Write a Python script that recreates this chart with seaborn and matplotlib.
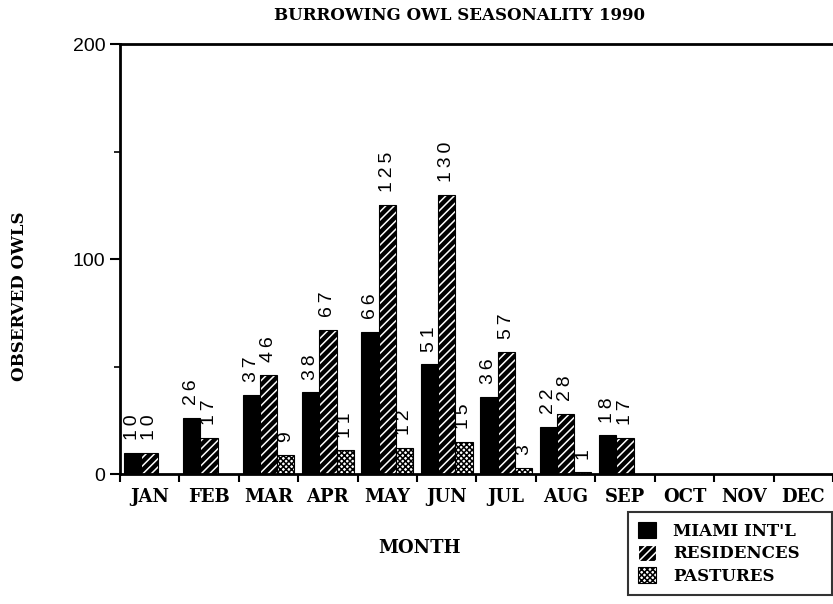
import pandas as pd
import seaborn as sns
import matplotlib.pyplot as plt
from matplotlib.patches import Patch
from matplotlib.ticker import MultipleLocator, FixedLocator

# data
months = ["JAN", "FEB", "MAR", "APR", "MAY", "JUN",
          "JUL", "AUG", "SEP", "OCT", "NOV", "DEC"]
miami = [10, 26, 37, 38, 66, 51, 36, 22, 18, 0, 0, 0]
residences = [10, 17, 46, 67, 125, 130, 57, 28, 17, 0, 0, 0]
pastures = [0, 0, 9, 11, 12, 15, 3, 1, 0, 0, 0, 0]
sites = ["MIAMI INT'L", "RESIDENCES", "PASTURES"]

df = pd.DataFrame({
    "Month": months * 3,
    "Owls": miami + residences + pastures,
    "Site": [sites[0]] * 12 + [sites[1]] * 12 + [sites[2]] * 12,
})

sns.set_theme(style="ticks")
plt.rcParams['font.family'] = ['DejaVu Sans']
plt.rcParams['hatch.linewidth'] = 1.1
for key in ["text.color", "axes.labelcolor", "xtick.color", "ytick.color"]:
    plt.rcParams[key] = "black"

serif = "DejaVu Serif"
sans = ["Liberation Sans", "DejaVu Sans"]

fig = plt.figure(figsize=(8.33, 6.04), dpi=100)
ax = fig.add_axes([0.144, 0.215, 0.856, 0.712])

sns.barplot(data=df, x="Month", y="Owls", hue="Site", order=months,
            hue_order=sites, width=0.87, dodge=True, legend=False, ax=ax,
            saturation=1, palette=["black", "black", "#8a8a8a"])

# black solid / black with white stripes / stippled grey
styles = [dict(fc="black", ec="black", hatch=None, lw=0.8),
          dict(fc="black", ec="white", hatch="////", lw=0),
          dict(fc="white", ec="black", hatch="xxxxxx", lw=0.8)]
for cont, st in zip(ax.containers, styles):
    for bar in cont:
        bar.set_facecolor(st["fc"])
        bar.set_edgecolor(st["ec"])
        bar.set_linewidth(st["lw"])
        if st["hatch"]:
            bar.set_hatch(st["hatch"])
        h = bar.get_height()
        if h > 0:
            # letter-spaced digits like the original typewriter-ish labels
            txt = "\u2009".join(str(int(h)))
            ax.text(bar.get_x() + bar.get_width() / 2, h + 6, txt,
                    rotation=90, ha="center", va="bottom", fontsize=14,
                    fontfamily=sans)
        if st["lw"] == 0 and h > 0:
            # keep a black outline round the striped bars
            ax.add_patch(plt.Rectangle((bar.get_x(), 0), bar.get_width(), h,
                                       fill=False, edgecolor="black", lw=0.8))

ax.set_ylim(0, 200)
ax.set_xlim(-0.5, 11.5)
ax.yaxis.set_major_locator(FixedLocator([0, 100, 200]))
ax.yaxis.set_minor_locator(MultipleLocator(50))
ax.tick_params(axis="y", which="major", length=7, width=1.5, labelsize=14,
               direction="out")
ax.tick_params(axis="y", which="minor", length=4, width=1.2, direction="out")
for lab in ax.get_yticklabels():
    lab.set_fontfamily(sans)
ax.xaxis.set_minor_locator(FixedLocator([i - 0.5 for i in range(13)]))
ax.tick_params(axis="x", which="major", length=0, pad=10)
ax.tick_params(axis="x", which="minor", length=6, width=1.5, direction="out")
for lab in ax.get_xticklabels():
    lab.set_fontfamily(serif)
    lab.set_fontweight("bold")
    lab.set_fontsize(13)

ax.set_xlabel("")
ax.set_ylabel("")
for side in ["left", "bottom", "top"]:
    ax.spines[side].set_visible(True)
    ax.spines[side].set_linewidth(2)
    ax.spines[side].set_color("black")
ax.spines["right"].set_visible(False)

fig.text(0.552, 0.975, "BURROWING OWL SEASONALITY 1990", ha="center",
         va="center", fontfamily=serif, fontweight="bold", fontsize=12)
fig.text(0.504, 0.093, "MONTH", ha="center", va="center",
         fontfamily=serif, fontweight="bold", fontsize=13)
fig.text(0.024, 0.51, "OBSERVED OWLS", ha="center", va="center",
         rotation=90, fontfamily=serif, fontweight="bold", fontsize=12)

handles = [Patch(facecolor=st["fc"], edgecolor=st["ec"], hatch=st["hatch"],
                 linewidth=0.8) for st in styles]
leg = fig.legend(handles, sites, loc="lower left",
                 bbox_to_anchor=(628 / 833, 9 / 604, 204 / 833, 82 / 604),
                 mode="expand", frameon=True, fancybox=False,
                 edgecolor="black", handlelength=1.1, handleheight=1.1,
                 handletextpad=1.0, borderpad=0.6, labelspacing=0.3,
                 borderaxespad=0,
                 prop={"family": serif, "weight": "bold", "size": 12})
leg.get_frame().set_linewidth(1.5)

fig.savefig("out.png", dpi=100)
